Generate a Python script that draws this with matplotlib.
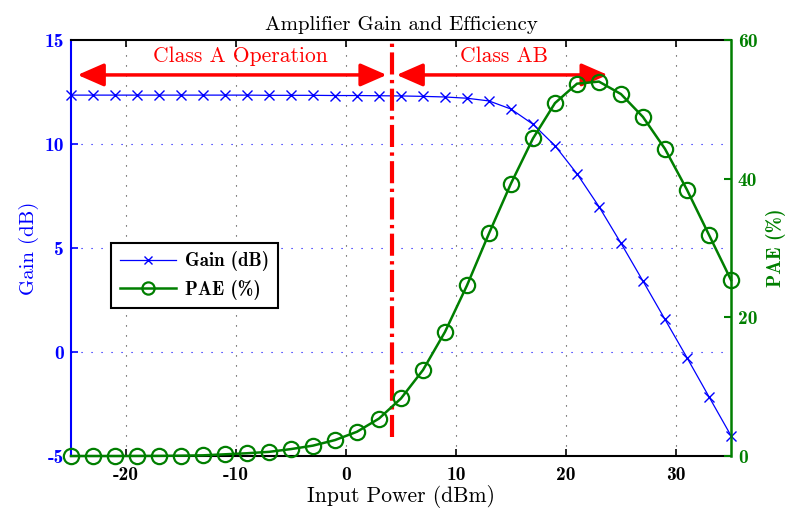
import matplotlib
matplotlib.use("Agg")
import matplotlib.pyplot as plt

plt.rcParams['axes.unicode_minus'] = False
plt.rcParams['font.family'] = ['cmr10', 'DejaVu Serif']

input_power = [-25, -23, -21, -19, -17, -15, -13, -11, -9, -7, -5, -3, -1, 1, 3,
               5, 7, 9, 11, 13, 15, 17, 19, 21, 23, 25, 27, 29, 31, 33, 35]
gain_db = [12.35, 12.35, 12.35, 12.35, 12.35, 12.35, 12.35, 12.35, 12.35, 12.34,
           12.34, 12.34, 12.33, 12.33, 12.32, 12.31, 12.29, 12.26, 12.20, 12.07,
           11.68, 10.95, 9.92, 8.57, 6.99, 5.23, 3.41, 1.57, -0.27, -2.15, -4.02]
pae_pct = [0.0, 0.0, 0.0, 0.01, 0.02, 0.05, 0.1, 0.25, 0.4, 0.6, 1.0, 1.5, 2.3,
           3.5, 5.4, 8.3, 12.4, 17.9, 24.6, 32.1, 39.3, 45.8, 50.9, 53.7, 54.0,
           52.2, 48.9, 44.3, 38.4, 31.9, 25.4]

class_boundary = 4.2
gain_ticks = [-5, 0, 5, 10, 15]
pae_ticks = [0, 20, 40, 60]
x_ticks = [-20, -10, 0, 10, 20, 30]

fig = plt.figure(figsize=(7.87, 5.14), dpi=100)
ax = fig.add_axes([0.0902, 0.1128, 0.8386, 0.8094])
ax2 = ax.twinx()

blue = '#0000ff'
green = '#007f00'
bold = ['cmb10', 'DejaVu Serif']

ax.set_xlim(-25, 35)
ax.set_ylim(-5, 15)
ax2.set_ylim(0, 60)

# grids
for xv in x_ticks:
    ax.axvline(xv, color='#333333', ls=(0, (1, 8)), lw=0.8, zorder=0)
for yv in gain_ticks[1:-1]:
    ax.axhline(yv, color=blue, ls=(0, (1, 8)), lw=0.8, zorder=0)

# data
ax.plot(input_power, gain_db, color=blue, lw=0.9, marker='x', ms=7.5, mew=1.0,
        label='Gain (dB)', zorder=3, clip_on=False)
ax2.plot(input_power, pae_pct, color=green, lw=1.8, marker='o', ms=11,
         mfc='none', mec=green, mew=1.6, label='PAE (%)', zorder=3, clip_on=False)

# class boundary
ax.plot([class_boundary, class_boundary], [-4.1, 15], color='red', lw=3,
        ls=(0, (5.3, 1.3, 0.8, 1.3)), zorder=4)

# arrows
ap = dict(arrowstyle='<|-|>,head_length=0.8,head_width=0.35', color='red',
          lw=2.5, mutation_scale=20, shrinkA=0, shrinkB=0)
ax.annotate('', xy=(-24.4, 13.32), xytext=(3.7, 13.32), arrowprops=ap, zorder=5)
ax.annotate('', xy=(4.6, 13.32), xytext=(23.8, 13.32), arrowprops=ap, zorder=5)
ax.text(-9.6, 14.2, 'Class A Operation', color='red', fontsize=15.5,
        ha='center', va='center', zorder=5)
ax.text(14.4, 14.2, 'Class AB', color='red', fontsize=15.5,
        ha='center', va='center', zorder=5)

# ticks
ax.set_xticks(x_ticks)
ax.set_yticks(gain_ticks)
ax2.set_yticks(pae_ticks)
ax.tick_params(axis='x', direction='in', top=True, length=5, width=1.2,
               labelsize=14, colors='black', pad=7)
ax.tick_params(axis='y', direction='in', length=5, width=1.2, labelsize=14,
               colors=blue, pad=5)
ax2.tick_params(axis='y', direction='in', length=5, width=1.5, labelsize=14,
                colors=green, pad=5)
for lab in ax.get_xticklabels() + ax.get_yticklabels() + ax2.get_yticklabels():
    lab.set_fontfamily(bold)

for s in ['top', 'bottom']:
    ax.spines[s].set_color('black')
    ax.spines[s].set_linewidth(1.5)
ax.spines['left'].set_color(blue)
ax.spines['left'].set_linewidth(1.5)
ax2.spines['right'].set_color(green)
ax2.spines['right'].set_linewidth(1.8)
ax2.spines['left'].set_visible(False)
ax2.spines['top'].set_visible(False)
ax2.spines['bottom'].set_visible(False)
ax.spines['right'].set_visible(False)

ax.set_title('Amplifier Gain and Efficiency', fontsize=15, pad=7)
ax.set_xlabel('Input Power (dBm)', fontsize=15.5, labelpad=1)
ax.set_ylabel('Gain (dB)', fontsize=15, color=blue, labelpad=4)
ax2.set_ylabel('PAE (%)', fontsize=14, color=green, labelpad=6, fontfamily=bold)

h1, l1 = ax.get_legend_handles_labels()
h2, l2 = ax2.get_legend_handles_labels()
leg = ax2.legend(h1 + h2, l1 + l2, loc='upper left', bbox_to_anchor=(0.061, 0.512),
                 fancybox=False, edgecolor='black', framealpha=1,
                 prop={'family': bold, 'size': 13.5}, markerscale=0.8,
                 handlelength=3.0, handletextpad=0.5, borderpad=0.45,
                 labelspacing=0.45, borderaxespad=0)
leg.get_frame().set_linewidth(1.5)

fig.savefig('out.png', dpi=100)
